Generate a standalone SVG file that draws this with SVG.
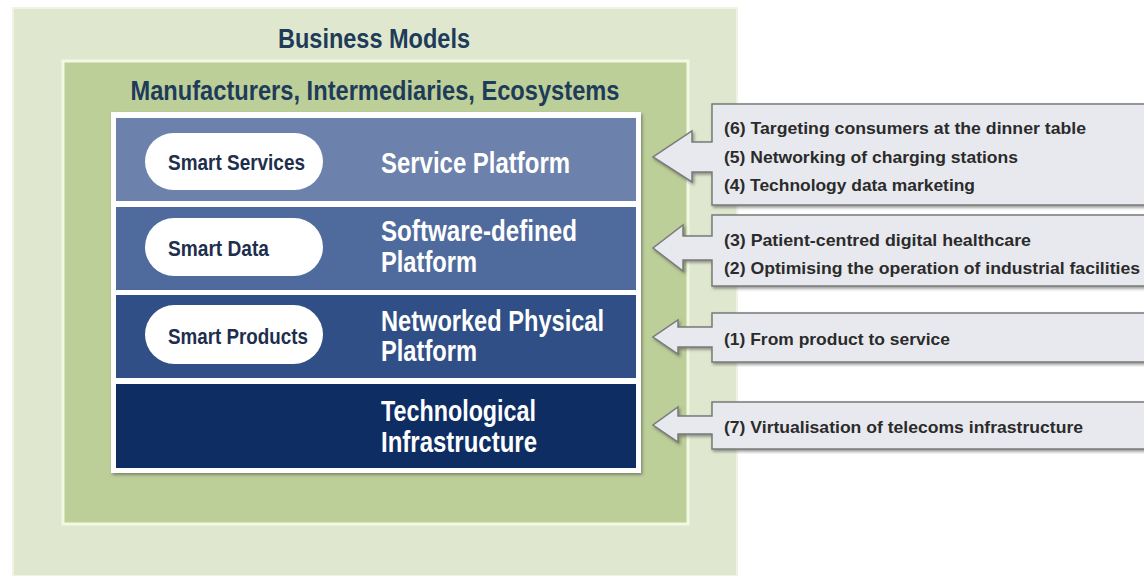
<svg xmlns="http://www.w3.org/2000/svg" width="1144" height="576" viewBox="0 0 1144 576">
<defs>
<filter id="sh" x="-5%" y="-5%" width="110%" height="115%">
<feDropShadow dx="1.5" dy="2" stdDeviation="1.5" flood-color="#555" flood-opacity="0.6"/>
</filter>
<style>
.t{font-family:"Liberation Sans Narrow","Liberation Sans",Arial,sans-serif;font-weight:bold}
.title{fill:#1f3b5a;font-size:28px}
.layer{fill:#ffffff;font-size:29px}
.pilltxt{fill:#1d2f4d;font-size:22px}
.note{fill:#2b2b2b;font-size:17px}
.pill{fill:#ffffff}
.arrow{fill:#e8e9ee;stroke:#7a7a7a;stroke-width:1.5}
</style>
</defs>
<rect width="1144" height="576" fill="#ffffff"/>
<g id="business-models">
<rect x="13" y="8" width="724" height="568" fill="#dfe8cf" stroke="#eef3e4" stroke-width="2"/>
<text class="t title" x="374" y="48" text-anchor="middle" textLength="192" lengthAdjust="spacingAndGlyphs">Business Models</text>
</g>
<g id="actors">
<rect x="63" y="61" width="625" height="463" fill="#bccf98" stroke="#f2f8e4" stroke-width="3"/>
<text class="t title" x="375" y="100" text-anchor="middle" textLength="489" lengthAdjust="spacingAndGlyphs">Manufacturers, Intermediaries, Ecosystems</text>
</g>
<g id="stack">
<rect x="111" y="112" width="530" height="361" fill="#ffffff" filter="url(#sh)"/>
</g>
<g id="service-platform">
<rect x="116" y="118" width="520" height="83" fill="#6c81ab"/>
<rect class="pill" x="145" y="133" width="178" height="57" rx="28.5"/>
<text class="t pilltxt" x="168" y="170" textLength="137" lengthAdjust="spacingAndGlyphs">Smart Services</text>
<text class="t layer" x="381" y="173" textLength="189" lengthAdjust="spacingAndGlyphs">Service Platform</text>
</g>
<g id="software-platform">
<rect x="116" y="207" width="520" height="83" fill="#4f6b9e"/>
<rect class="pill" x="145" y="218" width="178" height="58" rx="29"/>
<text class="t pilltxt" x="168" y="256" textLength="101" lengthAdjust="spacingAndGlyphs">Smart Data</text>
<text class="t layer" x="381" y="241" textLength="196" lengthAdjust="spacingAndGlyphs">Software-defined</text>
<text class="t layer" x="381" y="272" textLength="96" lengthAdjust="spacingAndGlyphs">Platform</text>
</g>
<g id="networked-platform">
<rect x="116" y="295" width="520" height="83" fill="#2f4f86"/>
<rect class="pill" x="145" y="305" width="178" height="59" rx="29.5"/>
<text class="t pilltxt" x="168" y="344" textLength="140" lengthAdjust="spacingAndGlyphs">Smart Products</text>
<text class="t layer" x="381" y="331" textLength="223" lengthAdjust="spacingAndGlyphs">Networked Physical</text>
<text class="t layer" x="381" y="361" textLength="96" lengthAdjust="spacingAndGlyphs">Platform</text>
</g>
<g id="tech-infrastructure">
<rect x="116" y="384" width="520" height="84" fill="#0d2d63"/>
<text class="t layer" x="381" y="421" textLength="155" lengthAdjust="spacingAndGlyphs">Technological</text>
<text class="t layer" x="381" y="452" textLength="156" lengthAdjust="spacingAndGlyphs">Infrastructure</text>
</g>
<g id="connectors">
<g id="callout-service" filter="url(#sh)">
<path class="arrow" d="M712,104 H1150 V205 H712 V172 H692 V182 L653,157 L692,131 V142 H712 Z"/>
</g>
<g id="callout-software" filter="url(#sh)">
<path class="arrow" d="M712,215 H1150 V286 H712 V260 H683 V271 L653,248 L683,225 V236 H712 Z"/>
</g>
<g id="callout-networked" filter="url(#sh)">
<path class="arrow" d="M712,313 H1150 V362 H712 V347 H678 V354 L653,337 L678,320 V327 H712 Z"/>
</g>
<g id="callout-tech" filter="url(#sh)">
<path class="arrow" d="M712,402 H1150 V449 H712 V434 H678 V442 L653,425 L678,407 V416 H712 Z"/>
</g>
</g>
<g id="notes">
<text class="t note" x="724" y="134" textLength="362" lengthAdjust="spacingAndGlyphs">(6) Targeting consumers at the dinner table</text>
<text class="t note" x="724" y="163" textLength="294" lengthAdjust="spacingAndGlyphs">(5) Networking of charging stations</text>
<text class="t note" x="724" y="191" textLength="251" lengthAdjust="spacingAndGlyphs">(4) Technology data marketing</text>
<text class="t note" x="724" y="246" textLength="307" lengthAdjust="spacingAndGlyphs">(3) Patient-centred digital healthcare</text>
<text class="t note" x="724" y="274" textLength="416" lengthAdjust="spacingAndGlyphs">(2) Optimising the operation of industrial facilities</text>
<text class="t note" x="724" y="345" textLength="226" lengthAdjust="spacingAndGlyphs">(1) From product to service</text>
<text class="t note" x="724" y="433" textLength="359" lengthAdjust="spacingAndGlyphs">(7) Virtualisation of telecoms infrastructure</text>
</g>
</svg>
